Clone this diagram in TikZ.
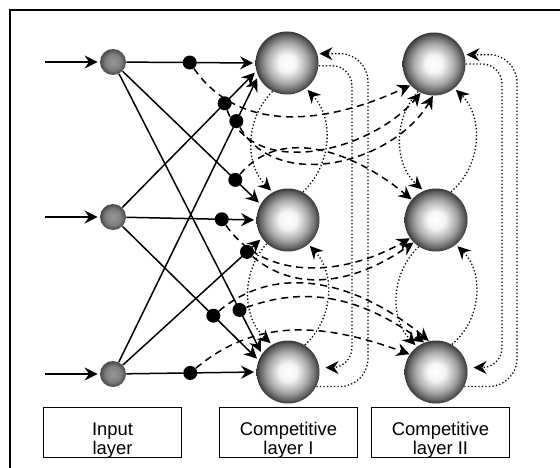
\documentclass[tikz,border=0pt]{standalone}
\usepackage{fontspec}
\setmainfont{Liberation Sans}
\usetikzlibrary{arrows.meta,calc}
\pgfdeclareradialshading{sphere}{\pgfpoint{0bp}{0bp}}{color(0bp)=(white); color(7bp)=(white!96!black); color(16bp)=(black!33); color(22bp)=(black!60); color(25bp)=(black!78); color(50bp)=(black!78)}
\pgfdeclareradialshading{insphere}{\pgfpoint{0bp}{0bp}}{color(0bp)=(black!40); color(15bp)=(black!50); color(25bp)=(black!72); color(50bp)=(black!72)}
\begin{document}
\begin{tikzpicture}[x=0.5pt,y=0.5pt,
	inp/.style={circle,inner sep=0pt,minimum size=13pt,shading=insphere},
	comp/.style={circle,inner sep=0pt,minimum size=31.5pt,shading=sphere},
	syn/.style={circle,fill=black,inner sep=0pt,minimum size=7pt},
	lbl/.style={draw,line width=0.5pt,minimum width=69pt,minimum height=25pt,inner ysep=0pt,text height=23.5pt,text depth=1.5pt,align=center,font=\fontsize{9.2}{9.5}\selectfont},
	tip/.style={-{Stealth[length=6.5pt,width=6.5pt,inset=2.2pt]}},
	wire/.style={tip,line width=0.75pt,shorten >=1pt},
	fb/.style={tip,line width=0.75pt,dash pattern=on 3.5pt off 2.5pt},
	lat/.style={tip,line width=0.65pt,dash pattern=on 0.65pt off 1.1pt,shorten >=1pt}]
\useasboundingbox (0,0) rectangle (560,467);
\clip (0,0) rectangle (560,467);
\draw[line width=1.4pt] (10,-20) rectangle (590,457);

\node[inp] (in1) at (113,405) {};
\node[inp] (in2) at (113,250) {};
\node[inp] (in3) at (113,93) {};
\node[comp] (c11) at (287,404) {};
\node[comp] (c12) at (288,247) {};
\node[comp] (c13) at (288,95) {};
\node[comp] (c21) at (434,403) {};
\node[comp] (c22) at (436,247) {};
\node[comp] (c23) at (436,95) {};

\node[lbl] (linp) at (112.5,35) {Input\\layer};
\node[lbl] (lcomp1) at (288.5,35) {Competitive\\layer I};
\node[lbl] (lcomp2) at (440.5,35) {Competitive\\layer II};

\coordinate (x1) at (45,405);
\coordinate (x2) at (45,250);
\coordinate (x3) at (45,93);
\draw[wire] (x1) -- (in1);
\draw[wire] (x2) -- (in2);
\draw[wire] (x3) -- (in3);

\draw[lat] (c11.243) to[bend right=45] (c12.119);
\draw[lat] (c12.62) to[bend right=45] (c11.307);
\draw[lat] (c12.228) to[bend right=45] (c13.120);
\draw[lat] (c13.58) to[bend right=45] (c12.310);
\draw[lat] (c21.240) to[bend right=45] (c22.113);
\draw[lat] (c22.62) to[bend right=48] (c21.310);
\draw[lat] (c22.237) to[bend right=45] (c23.127);
\draw[lat] (c23.60) to[bend right=48] (c22.309);

\coordinate (v1) at (352,0);
\coordinate (v2) at (368,0);
\coordinate (v3) at (502,0);
\coordinate (v4) at (517,0);
\draw[lat,rounded corners=10pt,shorten >=3pt] (c11.355) -| (v1 |- c13.8) -- (c13.8);
\draw[lat,rounded corners=14pt,shorten >=1pt] (c13.333) -| (v2 |- c11.17) -- (c11.17);
\draw[lat,rounded corners=10pt,shorten >=3pt] (c21.0) -| (v3 |- c23.8) -- (c23.8);
\draw[lat,rounded corners=14pt,shorten >=1pt] (c23.333) -| (v4 |- c21.17) -- (c21.17);

\node[syn] (d11) at ($(in1)!0.54!(c11.180)$) {};
\node[syn] (d21) at ($(in2)!0.78!(c11.195)$) {};
\node[syn] (d31) at ($(in3)!0.85!(c11.205)$) {};
\node[syn] (d12) at ($(in1)!0.83!(c12.150)$) {};
\node[syn] (d22) at ($(in2)!0.76!(c12.180)$) {};
\node[syn] (d32) at ($(in3)!0.90!(c12.215)$) {};
\node[syn] (d13) at ($(in1)!0.85!(c13.145)$) {};
\node[syn] (d23) at ($(in2)!0.69!(c13.158)$) {};
\node[syn] (d33) at ($(in3)!0.54!(c13.180)$) {};

\draw[wire] (in1) -- (c11.180);
\draw[wire] (in2) -- (c11.195);
\draw[wire] (in3) -- (c11.205);
\draw[wire] (in1) -- (c12.150);
\draw[wire] (in2) -- (c12.180);
\draw[wire] (in3) -- (c12.215);
\draw[wire] (in1) -- (c13.145);
\draw[wire] (in2) -- (c13.158);
\draw[wire] (in3) -- (c13.180);

\draw[fb] (d11) to[out=-55,in=205] (c21.222);
\draw[fb] (d21) to[out=-70,in=230] (c21.245);
\draw[fb] (d31) to[out=-60,in=240] (c21.268);
\draw[fb] (d12) to[out=50,in=140] (c22.140);
\draw[fb] (d22) to[out=-55,in=210] (c22.215);
\draw[fb] (d32) to[out=-40,in=215] (c22.225);
\draw[fb] (d13) to[out=20,in=145] (c23.112);
\draw[fb] (d23) to[out=40,in=140] (c23.103);
\draw[fb] (d33) to[out=40,in=160] (c23.146);
\end{tikzpicture}
\end{document}
